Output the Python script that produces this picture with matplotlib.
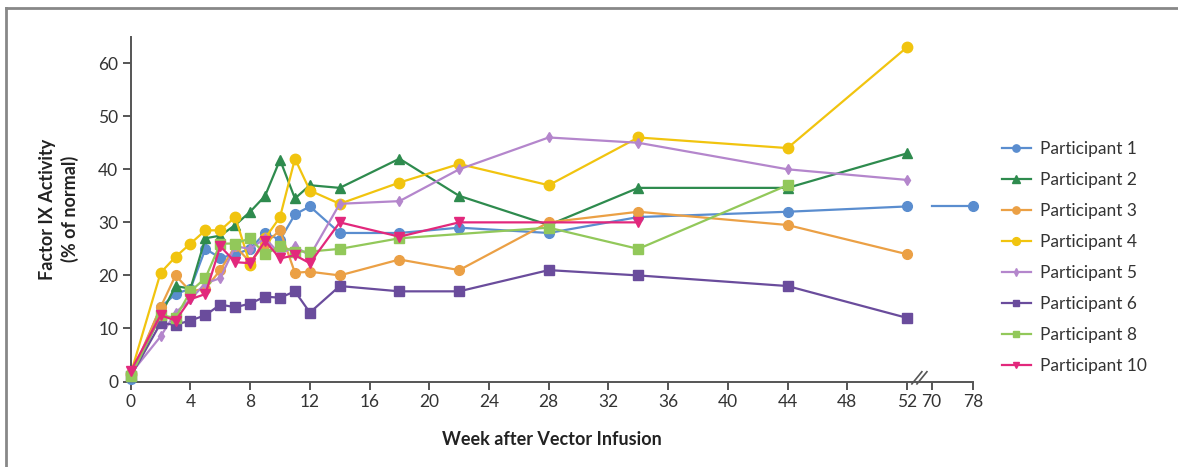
import matplotlib

matplotlib.use("Agg")
import matplotlib.pyplot as plt
import numpy as np
from matplotlib.lines import Line2D

plt.rcParams["font.family"] = ["Lato", "DejaVu Sans"]

# weeks after vector infusion
weeks = [0, 2, 3, 4, 5, 6, 7, 8, 9, 10, 11, 12, 14, 18, 22, 28, 34, 44, 52]
weeks_p8 = [0, 2, 3, 4, 5, 6, 7, 8, 9, 10, 11, 12, 14, 18, 28, 34, 44]
weeks_p10 = [0, 2, 3, 4, 5, 6, 7, 8, 9, 10, 11, 12, 14, 18, 22, 34]
weeks_p1_late = [70, 78]

p1 = [0.5, 14, 16.5, 17.5, 25, 23.3, 24, 25, 28, 26.7, 31.5, 33, 28, 28, 29, 28, 31, 32, 33]
p1_late = [33, 33]
p2 = [1, 12.5, 18, 17.5, 27, 27.5, 29.5, 32, 35, 41.8, 34.5, 37, 36.5, 42, 35, 29.5, 36.5, 36.5, 43]
p3 = [1, 14, 20, 17, 17.5, 21, 25.5, 22.5, 26, 28.5, 20.5, 20.7, 20, 23, 21, 30, 32, 29.5, 24]
p4 = [1.5, 20.5, 23.5, 26, 28.5, 28.5, 31, 22, 27, 31, 42, 36, 33.5, 37.5, 41, 37, 46, 44, 63]
p5 = [1.5, 8.5, 13, 15.5, 18.5, 19.5, 25.5, 25, 27, 24, 25.5, 23.7, 33.5, 34, 40, 46, 45, 40, 38]
p6 = [1, 11, 10.7, 11.5, 12.5, 14.5, 14, 14.7, 16, 15.8, 17, 13, 18, 17, 17, 21, 20, 18, 12]
p8 = [1, 12.5, 12, 17, 19.5, 26, 26, 27, 24, 25.5, 24.5, 24.5, 25, 27, 29, 25, 37]
p10 = [2, 12.5, 11.5, 15.5, 16.5, 25.5, 22.5, 22.3, 26.5, 23.2, 23.8, 22.3, 30, 27.3, 30, 30]

x_ticks = [0, 4, 8, 12, 16, 20, 24, 28, 32, 36, 40, 44, 48, 52, 70, 78]
y_ticks = [0, 10, 20, 30, 40, 50, 60]

BREAK_LO, BREAK_HI = 52.0, 70.0
GAP = 1.65        # axis width of the 52..70 break, in week units
TAIL = 0.35       # compression after the break


def fwd(x):
    x = np.asarray(x, dtype=float)
    mid = BREAK_LO + (x - BREAK_LO) * GAP / (BREAK_HI - BREAK_LO)
    tail = BREAK_LO + GAP + (x - BREAK_HI) * TAIL
    return np.where(x <= BREAK_LO, x, np.where(x <= BREAK_HI, mid, tail))


def inv(u):
    u = np.asarray(u, dtype=float)
    mid = BREAK_LO + (u - BREAK_LO) * (BREAK_HI - BREAK_LO) / GAP
    tail = BREAK_HI + (u - BREAK_LO - GAP) / TAIL
    return np.where(u <= BREAK_LO, u, np.where(u <= BREAK_LO + GAP, mid, tail))


series = [
    ("Participant 1", weeks, p1, "#5a8dcf", "o", 7),
    ("Participant 2", weeks, p2, "#2e8b4e", "^", 7),
    ("Participant 3", weeks, p3, "#eba045", "o", 7),
    ("Participant 4", weeks, p4, "#f1c40f", "o", 7.5),
    ("Participant 5", weeks, p5, "#b486cc", "d", 5),
    ("Participant 6", weeks, p6, "#6a4c9c", "s", 6.5),
    ("Participant 8", weeks_p8, p8, "#92c85a", "s", 6.5),
    ("Participant 10", weeks_p10, p10, "#e2287c", "v", 6.5),
]

fig = plt.figure(figsize=(11.78, 4.67), dpi=100)
ax = fig.add_axes([0.111, 0.183, 0.7153, 0.7385])
ax.set_xscale("function", functions=(fwd, inv))

for label, x, y, color, marker, ms in series:
    ax.plot(x, y, color=color, marker=marker, markersize=ms, linewidth=1.6,
            label=label, clip_on=False, zorder=3)

ax.plot(weeks_p1_late, p1_late, color="#5a8dcf", marker="o", markersize=7,
        linewidth=1.6, markevery=[1], clip_on=False, zorder=3)

ax.set_xlim(0, 78)
ax.set_ylim(0, 65)
ax.set_xticks(x_ticks)
ax.set_xticklabels([str(t) for t in x_ticks])
ax.set_yticks(y_ticks)

for side in ("top", "right"):
    ax.spines[side].set_visible(False)
for side in ("left", "bottom"):
    ax.spines[side].set_color("#555555")
    ax.spines[side].set_linewidth(1.4)
ax.tick_params(direction="out", length=6, width=1.4, color="#555555",
               labelsize=12.5, labelcolor="#333333", pad=3)

# break marks on the x axis
for x0, x1 in [(55.6, 62.9), (59.3, 66.6)]:
    ax.plot([x0, x1], [-0.45, 1.85], color="#555555", linewidth=1.2,
            clip_on=False, zorder=4)

ax.set_xlabel("Week after Vector Infusion", fontsize=13, fontweight="bold",
              color="#222222", labelpad=15)
ax.set_ylabel("Factor IX Activity\n(% of normal)", fontsize=13,
              fontweight="bold", color="#222222", labelpad=14, linespacing=1.3)

leg = ax.legend(loc="upper left", bbox_to_anchor=(0.837, 0.731),
                bbox_transform=fig.transFigure, frameon=False, fontsize=12.5,
                handlelength=1.7, handletextpad=0.5, labelspacing=0.86,
                markerscale=0.75)
for t in leg.get_texts():
    t.set_color("#333333")

# frame lines of the original panel
fig.add_artist(Line2D([0.005, 1.0], [0.983, 0.983], transform=fig.transFigure,
                      color="#888888", linewidth=2))
fig.add_artist(Line2D([0.005, 0.005], [0.0, 0.983], transform=fig.transFigure,
                      color="#888888", linewidth=2))

fig.savefig("out.png", dpi=100, facecolor="white")
